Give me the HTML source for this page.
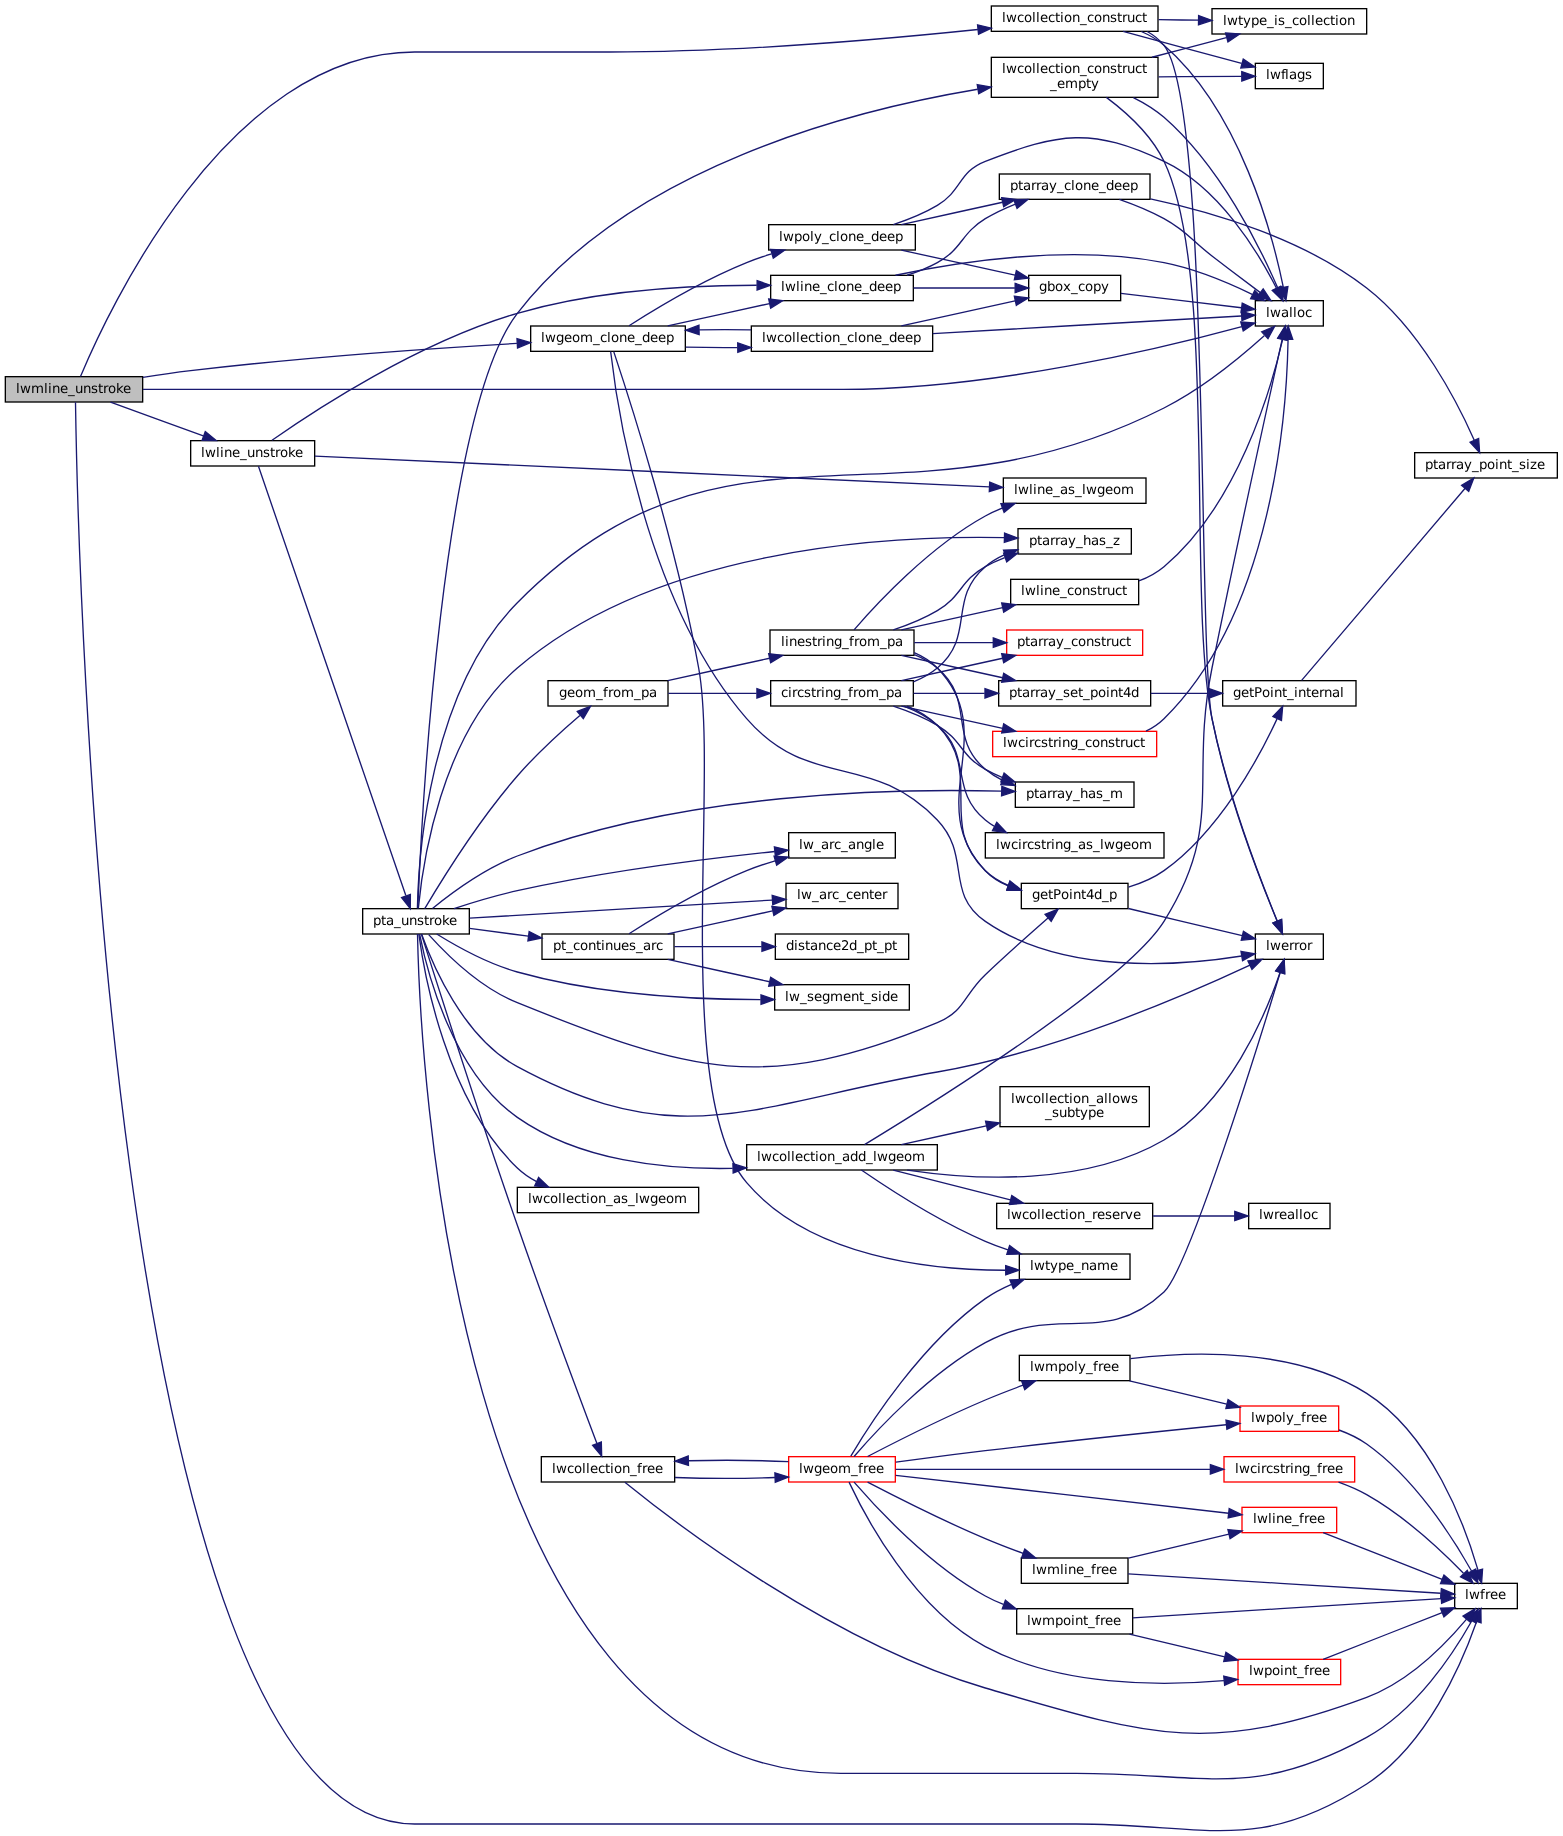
<!DOCTYPE html>
<html lang="en">
<head>
<meta charset="utf-8">
<title>lwmline_unstroke call graph</title>
<style>
html, body { margin: 0; padding: 0; background: #ffffff; }
body { width: 1563px; height: 1836px; overflow: hidden; }
svg { display: block; will-change: transform; }
svg text { font-family: "DejaVu Sans", "Liberation Sans", sans-serif; font-size: 10px; fill: #000000; text-rendering: geometricPrecision; }
</style>
</head>
<body>
<svg width="1563" height="1836" viewBox="0 0 1563 1836" role="img" aria-label="Call graph for lwmline_unstroke">
<g transform="scale(1.3333333)">
<g class="graph" transform="scale(1 1) rotate(0) translate(4 1373.33)">
<rect x="-4" y="-1373.33" width="1172" height="1377.33" fill="white" stroke="none"/>
<g class="node">
<rect x="0" y="-1090.83" width="103" height="19" fill="#bfbfbf" stroke="black"/>
<text x="8.00 11.00 19.25 29.00 32.00 35.00 41.00 47.00 52.25 58.25 64.25 69.50 73.25 77.00 83.00 88.25" y="-1078.58">lwmline_unstroke</text>
</g>
<g class="node">
<rect x="937.5" y="-1147.83" width="51" height="19" fill="white" stroke="black"/>
<text x="945.50 948.50 956.75 962.75 965.75 968.75 974.75" y="-1135.58">lwalloc</text>
</g>
<g class="edge">
<path fill="none" stroke="#191970" d="M103.2,-1081.33C154.57,-1081.33 236.31,-1081.33 307,-1081.33 307,-1081.33 307,-1081.33 628.5,-1081.33 739,-1081.33 867.18,-1112.11 927.4,-1128.44"/>
<polygon fill="#191970" stroke="#191970" points="926.58,-1131.84 937.15,-1131.11 928.43,-1125.09 926.58,-1131.84"/>
</g>
<g class="node">
<rect x="739.5" y="-1368.83" width="125" height="19" fill="white" stroke="black"/>
<text x="747.50 750.50 758.75 764.00 770.00 773.00 776.00 782.00 787.25 791.00 794.00 800.00 806.00 811.25 816.50 822.50 828.50 833.75 837.50 841.25 847.25 852.50" y="-1356.83">lwcollection_construct</text>
</g>
<g class="edge">
<path fill="none" stroke="#191970" d="M56.37,-1090.94C75.65,-1137.16 166.2,-1334.33 307,-1334.33 307,-1334.33 307,-1334.33 453,-1334.33 548.84,-1334.33 659.14,-1343.88 729.42,-1351.18"/>
<polygon fill="#191970" stroke="#191970" points="729.18,-1354.67 739.49,-1352.24 729.91,-1347.71 729.18,-1354.67"/>
</g>
<g class="node">
<rect x="1087" y="-185.83" width="47" height="19" fill="white" stroke="black"/>
<text x="1094.75 1097.75 1106.00 1109.75 1113.50 1119.50" y="-174.08">lwfree</text>
</g>
<g class="edge">
<path fill="none" stroke="#191970" d="M52.62,-1071.7C54.21,-964.88 74.97,-5.33 307,-5.33 307,-5.33 307,-5.33 803,-5.33 900.8,-5.33 938.85,17.73 1021,-35.33 1066.17,-64.51 1092.43,-125.76 1103.41,-157.05"/>
<polygon fill="#191970" stroke="#191970" points="1100.17,-158.39 1106.66,-166.76 1106.8,-156.17 1100.17,-158.39"/>
</g>
<g class="node">
<rect x="394" y="-1128.83" width="116" height="19" fill="white" stroke="black"/>
<text x="401.75 404.75 413.00 419.00 425.00 431.00 440.75 446.00 451.25 454.25 460.25 466.25 472.25 477.50 483.50 489.50 495.50" y="-1116.83">lwgeom_clone_deep</text>
</g>
<g class="edge">
<path fill="none" stroke="#191970" d="M103.17,-1090.26C114.91,-1092.13 127.37,-1093.95 139,-1095.33 223.06,-1105.35 320.38,-1112.07 383.68,-1115.79"/>
<polygon fill="#191970" stroke="#191970" points="383.74,-1119.3 393.93,-1116.38 384.15,-1112.31 383.74,-1119.3"/>
</g>
<g class="node">
<rect x="139" y="-1042.83" width="93" height="19" fill="white" stroke="black"/>
<text x="146.75 149.75 158.00 161.00 164.00 170.00 176.00 181.25 187.25 193.25 198.50 202.25 206.00 212.00 217.25" y="-1030.58">lwline_unstroke</text>
</g>
<g class="edge">
<path fill="none" stroke="#191970" d="M78.89,-1071.74C98.86,-1064.48 126.5,-1054.43 148.49,-1046.43"/>
<polygon fill="#191970" stroke="#191970" points="149.95,-1049.62 158.15,-1042.91 147.56,-1043.04 149.95,-1049.62"/>
</g>
<g class="edge">
<path fill="none" stroke="#191970" d="M851.98,-1349.7C858.15,-1347.04 864.03,-1343.65 869,-1339.33 926.02,-1289.74 950.3,-1197.84 958.51,-1157.81"/>
<polygon fill="#191970" stroke="#191970" points="961.95,-1158.46 960.41,-1147.97 955.07,-1157.13 961.95,-1158.46"/>
</g>
<g class="node">
<rect x="937.5" y="-672.83" width="51" height="19" fill="white" stroke="black"/>
<text x="945.50 948.50 956.75 962.75 966.50 970.25 976.25" y="-660.83">lwerror</text>
</g>
<g class="edge">
<path fill="none" stroke="#191970" d="M856.43,-1349.73C861.23,-1347.04 865.56,-1343.64 869,-1339.33 904.1,-1295.38 894.02,-889.5 905,-834.33 916.31,-777.53 941.06,-713.48 953.9,-682.36"/>
<polygon fill="#191970" stroke="#191970" points="957.14,-683.7 957.77,-673.12 950.68,-680.99 957.14,-683.7"/>
</g>
<g class="node">
<rect x="937.5" y="-1325.83" width="51" height="19" fill="white" stroke="black"/>
<text x="945.50 948.50 956.75 959.75 962.75 968.75 974.75" y="-1314.08">lwflags</text>
</g>
<g class="edge">
<path fill="none" stroke="#191970" d="M838.29,-1349.79C864.78,-1342.63 900.88,-1332.86 927.24,-1325.73"/>
<polygon fill="#191970" stroke="#191970" points="928.44,-1329.04 937.18,-1323.05 926.61,-1322.28 928.44,-1329.04"/>
</g>
<g class="node">
<rect x="905" y="-1366.83" width="116" height="19" fill="white" stroke="black"/>
<text x="913.25 916.25 924.50 928.25 934.25 940.25 946.25 951.50 954.50 959.75 965.00 970.25 976.25 979.25 982.25 988.25 993.50 997.25 1000.25 1006.25" y="-1354.58">lwtype_is_collection</text>
</g>
<g class="edge">
<path fill="none" stroke="#191970" d="M864.93,-1358.55C874.7,-1358.43 884.85,-1358.3 894.73,-1358.18"/>
<polygon fill="#191970" stroke="#191970" points="894.96,-1361.68 904.91,-1358.05 894.87,-1354.68 894.96,-1361.68"/>
</g>
<g class="edge">
<path fill="none" stroke="#191970" d="M453.98,-1109.73C458.41,-1070.75 479.81,-922.16 556,-834.33 603.16,-779.96 649.29,-810.39 699,-758.33 724.81,-731.3 704.28,-703.62 735,-682.33 792.69,-642.36 879.49,-648.68 927.31,-656.32"/>
<polygon fill="#191970" stroke="#191970" points="926.74,-659.77 937.18,-658 927.92,-652.87 926.74,-659.77"/>
</g>
<g class="node">
<rect x="559.5" y="-1128.83" width="136" height="19" fill="white" stroke="black"/>
<text x="567.50 570.50 578.75 584.00 590.00 593.00 596.00 602.00 607.25 611.00 614.00 620.00 626.00 631.25 636.50 639.50 645.50 651.50 657.50 662.75 668.75 674.75 680.75" y="-1116.83">lwcollection_clone_deep</text>
</g>
<g class="edge">
<path fill="none" stroke="#191970" d="M510.29,-1112.94C522.67,-1112.63 535.97,-1112.52 548.98,-1112.62"/>
<polygon fill="#191970" stroke="#191970" points="549.29,-1116.12 559.33,-1112.74 549.37,-1109.12 549.29,-1116.12"/>
</g>
<g class="node">
<rect x="574" y="-1166.83" width="107" height="19" fill="white" stroke="black"/>
<text x="581.75 584.75 593.00 596.00 599.00 605.00 611.00 616.25 621.50 624.50 630.50 636.50 642.50 647.75 653.75 659.75 665.75" y="-1155.08">lwline_clone_deep</text>
</g>
<g class="edge">
<path fill="none" stroke="#191970" d="M496.78,-1128.92C519.99,-1134 548.68,-1140.29 573.17,-1145.65"/>
<polygon fill="#191970" stroke="#191970" points="572.52,-1149.09 583.03,-1147.81 574.01,-1142.25 572.52,-1149.09"/>
</g>
<g class="node">
<rect x="572.5" y="-1204.83" width="110" height="19" fill="white" stroke="black"/>
<text x="580.25 583.25 591.50 597.50 603.50 606.50 612.50 617.75 623.00 626.00 632.00 638.00 644.00 649.25 655.25 661.25 667.25" y="-1192.58">lwpoly_clone_deep</text>
</g>
<g class="edge">
<path fill="none" stroke="#191970" d="M467.79,-1129.03C487.3,-1141.46 523.03,-1163 556,-1176.33 561.94,-1178.74 568.28,-1180.93 574.63,-1182.9"/>
<polygon fill="#191970" stroke="#191970" points="573.99,-1186.36 584.57,-1185.82 575.96,-1179.65 573.99,-1186.36"/>
</g>
<g class="node">
<rect x="760.5" y="-432.83" width="83" height="19" fill="white" stroke="black"/>
<text x="768.50 771.50 779.75 783.50 789.50 795.50 801.50 806.75 812.75 818.75 828.50" y="-420.83">lwtype_name</text>
</g>
<g class="edge">
<path fill="none" stroke="#191970" d="M456.3,-1109.59C467.3,-1076.66 503,-966.34 520,-872.33 535.33,-787.56 500.1,-551.89 556,-486.33 603.62,-430.49 693.46,-420.71 750.11,-420.65"/>
<polygon fill="#191970" stroke="#191970" points="750.25,-424.15 760.29,-420.74 750.32,-417.15 750.25,-424.15"/>
</g>
<g class="edge">
<path fill="none" stroke="#191970" d="M695.59,-1123.16C765.49,-1127.14 872.3,-1133.22 927.02,-1136.34"/>
<polygon fill="#191970" stroke="#191970" points="927.06,-1139.85 937.24,-1136.92 927.46,-1132.86 927.06,-1139.85"/>
</g>
<g class="edge">
<path fill="none" stroke="#191970" d="M559.33,-1125.93C546.55,-1126.13 533.18,-1126.14 520.39,-1125.93"/>
<polygon fill="#191970" stroke="#191970" points="520.36,-1122.43 510.29,-1125.72 520.22,-1129.43 520.36,-1122.43"/>
</g>
<g class="node">
<rect x="767.5" y="-1166.83" width="69" height="19" fill="white" stroke="black"/>
<text x="775.25 781.25 787.25 793.25 799.25 804.50 809.75 815.75 821.75" y="-1155.08">gbox_copy</text>
</g>
<g class="edge">
<path fill="none" stroke="#191970" d="M672.03,-1128.92C698.11,-1134.67 731.16,-1141.95 757.28,-1147.7"/>
<polygon fill="#191970" stroke="#191970" points="756.76,-1151.17 767.28,-1149.91 758.27,-1144.34 756.76,-1151.17"/>
</g>
<g class="edge">
<path fill="none" stroke="#191970" d="M836.72,-1153.3C863.28,-1150.13 900.17,-1145.72 927.04,-1142.51"/>
<polygon fill="#191970" stroke="#191970" points="927.65,-1145.96 937.17,-1141.3 926.82,-1139.01 927.65,-1145.96"/>
</g>
<g class="edge">
<path fill="none" stroke="#191970" d="M667.61,-1166.88C715.51,-1177.1 798.93,-1190.1 869,-1176.33 892.25,-1171.77 917.01,-1161.35 935.13,-1152.57"/>
<polygon fill="#191970" stroke="#191970" points="937.08,-1155.51 944.47,-1147.91 933.96,-1149.25 937.08,-1155.51"/>
</g>
<g class="edge">
<path fill="none" stroke="#191970" d="M681.19,-1157.33C705.51,-1157.33 734.04,-1157.33 757.16,-1157.33"/>
<polygon fill="#191970" stroke="#191970" points="757.37,-1160.83 767.37,-1157.33 757.37,-1153.83 757.37,-1160.83"/>
</g>
<g class="node">
<rect x="745.5" y="-1242.83" width="113" height="19" fill="white" stroke="black"/>
<text x="753.50 759.50 763.25 769.25 773.00 776.75 782.75 788.75 794.00 799.25 802.25 808.25 814.25 820.25 825.50 831.50 837.50 843.50" y="-1230.83">ptarray_clone_deep</text>
</g>
<g class="edge">
<path fill="none" stroke="#191970" d="M676.36,-1166.89C684.18,-1169.38 692,-1172.49 699,-1176.33 718.02,-1186.79 716.44,-1198.07 735,-1209.33 741.97,-1213.56 749.79,-1217.22 757.56,-1220.31"/>
<polygon fill="#191970" stroke="#191970" points="756.34,-1223.59 766.93,-1223.81 758.79,-1217.03 756.34,-1223.59"/>
</g>
<g class="edge">
<path fill="none" stroke="#191970" d="M835.44,-1223.8C846.42,-1219.98 858.54,-1215.11 869,-1209.33 886.74,-1199.53 888.91,-1193.66 905,-1181.33 916.96,-1172.17 930.41,-1162.02 941.24,-1153.88"/>
<polygon fill="#191970" stroke="#191970" points="943.38,-1156.65 949.28,-1147.84 939.18,-1151.05 943.38,-1156.65"/>
</g>
<g class="node">
<rect x="1057" y="-1033.83" width="107" height="19" fill="white" stroke="black"/>
<text x="1064.75 1070.75 1074.50 1080.50 1084.25 1088.00 1094.00 1100.00 1105.25 1111.25 1117.25 1120.25 1126.25 1130.00 1135.25 1140.50 1143.50 1148.75" y="-1021.58">ptarray_point_size</text>
</g>
<g class="edge">
<path fill="none" stroke="#191970" d="M858.8,-1224.18C905.92,-1214.2 973.17,-1194.42 1021,-1157.33 1061.02,-1126.3 1088.97,-1071.88 1101.71,-1043.22"/>
<polygon fill="#191970" stroke="#191970" points="1104.98,-1044.49 1105.71,-1033.92 1098.55,-1041.72 1104.98,-1044.49"/>
</g>
<g class="edge">
<path fill="none" stroke="#191970" d="M665.99,-1204.92C677.04,-1208.57 688.88,-1213.33 699,-1219.33 717.67,-1230.4 714.77,-1244.46 735,-1252.33 790.5,-1273.92 815.2,-1277.88 869,-1252.33 910.53,-1232.61 939.64,-1184.26 953.26,-1157.29"/>
<polygon fill="#191970" stroke="#191970" points="956.5,-1158.63 957.71,-1148.11 950.2,-1155.58 956.5,-1158.63"/>
</g>
<g class="edge">
<path fill="none" stroke="#191970" d="M672.03,-1185.74C698.11,-1180 731.16,-1172.72 757.28,-1166.96"/>
<polygon fill="#191970" stroke="#191970" points="758.27,-1170.33 767.28,-1164.76 756.76,-1163.49 758.27,-1170.33"/>
</g>
<g class="edge">
<path fill="none" stroke="#191970" d="M672.03,-1204.92C695.1,-1210 723.63,-1216.29 747.98,-1221.65"/>
<polygon fill="#191970" stroke="#191970" points="747.27,-1225.08 757.78,-1223.81 748.77,-1218.24 747.27,-1225.08"/>
</g>
<g class="edge">
<path fill="none" stroke="#191970" d="M200.01,-1043.09C230.83,-1064.74 309.43,-1116.62 384,-1138.33 443.24,-1155.59 513.85,-1159.34 563.56,-1159.37"/>
<polygon fill="#191970" stroke="#191970" points="563.85,-1162.87 573.83,-1159.33 563.82,-1155.87 563.85,-1162.87"/>
</g>
<g class="node">
<rect x="748.5" y="-1014.83" width="107" height="19" fill="white" stroke="black"/>
<text x="756.50 759.50 767.75 770.75 773.75 779.75 785.75 791.00 797.00 802.25 807.50 810.50 818.75 824.75 830.75 836.75" y="-1002.83">lwline_as_lwgeom</text>
</g>
<g class="edge">
<path fill="none" stroke="#191970" d="M232.19,-1031.25C340.67,-1026.31 613.97,-1013.86 738.01,-1008.2"/>
<polygon fill="#191970" stroke="#191970" points="738.28,-1011.69 748.11,-1007.74 737.97,-1004.7 738.28,-1011.69"/>
</g>
<g class="node">
<rect x="268" y="-691.83" width="80" height="19" fill="white" stroke="black"/>
<text x="275.75 281.75 285.50 291.50 296.75 302.75 308.75 314.00 317.75 321.50 327.50 332.75" y="-679.58">pta_unstroke</text>
</g>
<g class="edge">
<path fill="none" stroke="#191970" d="M189.85,-1023.58C206.23,-975.85 278.07,-766.61 300.37,-701.64"/>
<polygon fill="#191970" stroke="#191970" points="303.79,-702.47 303.72,-691.88 297.17,-700.2 303.79,-702.47"/>
</g>
<g class="edge">
<path fill="none" stroke="#191970" d="M309.05,-692.12C309.77,-728.07 317.15,-854.12 384,-921.33 542.75,-1080.94 668.04,-965.89 869,-1067.33 897.67,-1081.81 926.41,-1105.49 944.19,-1121.48"/>
<polygon fill="#191970" stroke="#191970" points="942.25,-1124.46 951.99,-1128.64 946.99,-1119.3 942.25,-1124.46"/>
</g>
<g class="edge">
<path fill="none" stroke="#191970" d="M312.16,-672.78C320.08,-650.51 343.18,-595.4 384,-573.33 507.16,-506.74 561.05,-545.42 699,-569.33 787.72,-584.71 886.12,-627.24 933.47,-649.44"/>
<polygon fill="#191970" stroke="#191970" points="931.97,-652.61 942.51,-653.72 934.97,-646.28 931.97,-652.61"/>
</g>
<g class="edge">
<path fill="none" stroke="#191970" d="M309.13,-672.8C310.71,-593.31 332.29,-43.33 626.5,-43.33 626.5,-43.33 626.5,-43.33 803,-43.33 900.63,-43.33 935.28,-23.6 1021,-70.33 1058,-90.51 1085.91,-132.95 1099.78,-157.57"/>
<polygon fill="#191970" stroke="#191970" points="1096.84,-159.51 1104.69,-166.63 1103,-156.17 1096.84,-159.51"/>
</g>
<g class="node">
<rect x="407" y="-862.83" width="90" height="19" fill="white" stroke="black"/>
<text x="415.25 421.25 427.25 433.25 443.00 448.25 452.00 455.75 461.75 471.50 476.75 482.75" y="-850.58">geom_from_pa</text>
</g>
<g class="edge">
<path fill="none" stroke="#191970" d="M314.57,-691.88C326.23,-711.48 354.54,-757.29 384,-791.33 398.43,-808.01 416.96,-824.87 430.88,-836.79"/>
<polygon fill="#191970" stroke="#191970" points="428.97,-839.76 438.87,-843.53 433.48,-834.41 428.97,-839.76"/>
</g>
<g class="node">
<rect x="762" y="-710.83" width="80" height="19" fill="white" stroke="black"/>
<text x="770.00 776.00 782.00 785.75 791.75 797.75 800.75 806.75 810.50 816.50 822.50 827.75" y="-699.08">getPoint4d_p</text>
</g>
<g class="edge">
<path fill="none" stroke="#191970" d="M317.5,-672.4C330.3,-658.23 356,-632.68 384,-621.33 513.9,-568.71 569.51,-552.7 699,-606.33 719.91,-614.99 718.56,-626.79 735,-642.33 750.54,-657.02 768.68,-673.17 782.01,-684.86"/>
<polygon fill="#191970" stroke="#191970" points="779.78,-687.56 789.62,-691.5 784.39,-682.29 779.78,-687.56"/>
</g>
<g class="node">
<rect x="757.5" y="-786.83" width="89" height="19" fill="white" stroke="black"/>
<text x="765.50 771.50 775.25 781.25 785.00 788.75 794.75 800.75 806.00 812.00 818.00 823.25 828.50" y="-774.83">ptarray_has_m</text>
</g>
<g class="edge">
<path fill="none" stroke="#191970" d="M320.35,-691.99C334.35,-703.35 359.32,-721.84 384,-731.33 507.54,-778.85 665.82,-782.09 747.26,-779.96"/>
<polygon fill="#191970" stroke="#191970" points="747.39,-783.46 757.28,-779.66 747.18,-776.46 747.39,-783.46"/>
</g>
<g class="node">
<rect x="759.5" y="-976.83" width="85" height="19" fill="white" stroke="black"/>
<text x="767.75 773.75 777.50 783.50 787.25 791.00 797.00 803.00 808.25 814.25 820.25 825.50 830.75" y="-964.58">ptarray_has_z</text>
</g>
<g class="edge">
<path fill="none" stroke="#191970" d="M309.74,-692.01C312.7,-723.34 326.42,-822.9 384,-872.33 489.3,-962.73 663.11,-971.77 749.27,-970.06"/>
<polygon fill="#191970" stroke="#191970" points="749.43,-973.56 759.34,-969.81 749.25,-966.56 749.43,-973.56"/>
</g>
<g class="node">
<rect x="587.5" y="-748.83" width="80" height="19" fill="white" stroke="black"/>
<text x="595.25 598.25 606.50 611.75 617.75 621.50 626.75 632.00 638.00 644.00 650.00 653.00" y="-736.58">lw_arc_angle</text>
</g>
<g class="edge">
<path fill="none" stroke="#191970" d="M336.5,-691.91C350.57,-696.52 368.05,-701.79 384,-705.33 450.06,-720 527.73,-729.57 577.02,-734.71"/>
<polygon fill="#191970" stroke="#191970" points="576.79,-738.21 587.1,-735.75 577.51,-731.25 576.79,-738.21"/>
</g>
<g class="node">
<rect x="585.5" y="-710.83" width="84" height="19" fill="white" stroke="black"/>
<text x="593.75 596.75 605.00 610.25 616.25 620.00 625.25 630.50 635.75 641.75 647.75 651.50 657.50" y="-699.08">lw_arc_center</text>
</g>
<g class="edge">
<path fill="none" stroke="#191970" d="M348.25,-684.68C405.46,-688.11 511.81,-694.47 575.16,-698.26"/>
<polygon fill="#191970" stroke="#191970" points="575.14,-701.77 585.33,-698.87 575.56,-694.78 575.14,-701.77"/>
</g>
<g class="node">
<rect x="577" y="-634.83" width="101" height="19" fill="white" stroke="black"/>
<text x="584.75 587.75 596.00 601.25 606.50 612.50 618.50 628.25 634.25 640.25 644.00 649.25 654.50 657.50 663.50" y="-622.58">lw_segment_side</text>
</g>
<g class="edge">
<path fill="none" stroke="#191970" d="M323.52,-672.8C338.13,-663.74 361.65,-650.6 384,-644.33 444.54,-627.34 516.7,-623.69 566.48,-623.61"/>
<polygon fill="#191970" stroke="#191970" points="566.74,-627.11 576.75,-623.64 566.76,-620.11 566.74,-627.11"/>
</g>
<g class="node">
<rect x="556" y="-514.83" width="143" height="19" fill="white" stroke="black"/>
<text x="563.75 566.75 575.00 580.25 586.25 589.25 592.25 598.25 603.50 607.25 610.25 616.25 622.25 627.50 633.50 639.50 645.50 650.75 653.75 662.00 668.00 674.00 680.00" y="-502.58">lwcollection_add_lwgeom</text>
</g>
<g class="edge">
<path fill="none" stroke="#191970" d="M310.7,-672.76C316,-645.93 334.96,-569.69 384,-535.33 430.56,-502.72 494.83,-496.03 545.51,-497.06"/>
<polygon fill="#191970" stroke="#191970" points="545.68,-500.57 555.78,-497.38 545.89,-493.57 545.68,-500.57"/>
</g>
<g class="node">
<rect x="384" y="-482.83" width="136" height="19" fill="white" stroke="black"/>
<text x="392.00 395.00 403.25 408.50 414.50 417.50 420.50 426.50 431.75 435.50 438.50 444.50 450.50 455.75 461.75 467.00 472.25 475.25 483.50 489.50 495.50 501.50" y="-471.08">lwcollection_as_lwgeom</text>
</g>
<g class="edge">
<path fill="none" stroke="#191970" d="M310.13,-672.75C314.19,-642.57 330.74,-548.45 384,-497.33 388.23,-493.28 393.18,-489.9 398.46,-487.09"/>
<polygon fill="#191970" stroke="#191970" points="399.96,-490.25 407.56,-482.88 397.02,-483.9 399.96,-490.25"/>
</g>
<g class="node">
<rect x="739.5" y="-1330.33" width="125" height="30" fill="white" stroke="black"/>
<text x="747.50 750.50 758.75 764.00 770.00 773.00 776.00 782.00 787.25 791.00 794.00 800.00 806.00 811.25 816.50 822.50 828.50 833.75 837.50 841.25 847.25 852.50" y="-1318.58">lwcollection_construct</text>
<text x="783.50 788.75 794.75 804.50 810.50 814.25" y="-1307.33">_empty</text>
</g>
<g class="edge">
<path fill="none" stroke="#191970" d="M309.37,-692.05C311.79,-751.38 327.14,-1064.91 384,-1138.33 468.78,-1247.83 634.22,-1290.44 729.25,-1306.37"/>
<polygon fill="#191970" stroke="#191970" points="728.92,-1309.86 739.35,-1308.01 730.04,-1302.95 728.92,-1309.86"/>
</g>
<g class="node">
<rect x="402" y="-280.83" width="100" height="19" fill="white" stroke="black"/>
<text x="410.00 413.00 421.25 426.50 432.50 435.50 438.50 444.50 449.75 453.50 456.50 462.50 468.50 473.75 477.50 481.25 487.25" y="-268.58">lwcollection_free</text>
</g>
<g class="edge">
<path fill="none" stroke="#191970" d="M312.03,-672.74C321.99,-641.3 354.73,-538.57 384,-454.33 404.84,-394.35 431.14,-323.96 443.69,-290.66"/>
<polygon fill="#191970" stroke="#191970" points="446.99,-291.8 447.25,-281.21 440.45,-289.33 446.99,-291.8"/>
</g>
<g class="node">
<rect x="402.5" y="-672.83" width="99" height="19" fill="white" stroke="black"/>
<text x="410.75 416.75 420.50 425.75 431.00 437.00 443.00 446.75 449.75 455.75 461.75 467.75 473.00 478.25 484.25 488.00" y="-660.83">pt_continues_arc</text>
</g>
<g class="edge">
<path fill="none" stroke="#191970" d="M348.18,-677.09C361.78,-675.27 377.36,-673.19 392.2,-671.2"/>
<polygon fill="#191970" stroke="#191970" points="392.87,-674.64 402.32,-669.85 391.95,-667.7 392.87,-674.64"/>
</g>
<g class="node">
<rect x="574" y="-862.83" width="107" height="19" fill="white" stroke="black"/>
<text x="581.75 587.00 590.00 593.75 599.00 604.25 608.00 611.75 614.75 620.75 626.75 632.00 635.75 639.50 645.50 655.25 660.50 666.50" y="-850.58">circstring_from_pa</text>
</g>
<g class="edge">
<path fill="none" stroke="#191970" d="M497.23,-853.33C517.34,-853.33 541.5,-853.33 563.46,-853.33"/>
<polygon fill="#191970" stroke="#191970" points="563.7,-856.83 573.7,-853.33 563.7,-849.83 563.7,-856.83"/>
</g>
<g class="node">
<rect x="573.5" y="-900.83" width="108" height="19" fill="white" stroke="black"/>
<text x="581.75 584.75 587.75 593.75 599.75 605.00 608.75 612.50 615.50 621.50 627.50 632.75 636.50 640.25 646.25 656.00 661.25 667.25" y="-888.83">linestring_from_pa</text>
</g>
<g class="edge">
<path fill="none" stroke="#191970" d="M496.78,-862.92C519.99,-868 548.68,-874.29 573.17,-879.65"/>
<polygon fill="#191970" stroke="#191970" points="572.52,-883.09 583.03,-881.81 574.01,-876.25 572.52,-883.09"/>
</g>
<g class="edge">
<path fill="none" stroke="#191970" d="M676.34,-843.77C684.7,-840.33 692.72,-835.67 699,-829.33 734.91,-793.09 698.23,-755.7 735,-720.33 739.91,-715.61 745.91,-712.05 752.27,-709.37"/>
<polygon fill="#191970" stroke="#191970" points="753.5,-712.65 761.77,-706.03 751.18,-706.05 753.5,-712.65"/>
</g>
<g class="node">
<rect x="735" y="-748.83" width="134" height="19" fill="white" stroke="black"/>
<text x="743.00 746.00 754.25 759.50 762.50 766.25 771.50 776.75 780.50 784.25 787.25 793.25 799.25 804.50 810.50 815.75 821.00 824.00 832.25 838.25 844.25 850.25" y="-736.58">lwcircstring_as_lwgeom</text>
</g>
<g class="edge">
<path fill="none" stroke="#191970" d="M673.78,-843.7C682.84,-840.26 691.77,-835.6 699,-829.33 725.72,-806.14 707.73,-780.88 735,-758.33 737.05,-756.64 739.24,-755.09 741.54,-753.69"/>
<polygon fill="#191970" stroke="#191970" points="743.53,-756.6 750.83,-748.92 740.34,-750.37 743.53,-756.6"/>
</g>
<g class="node">
<rect x="740.5" y="-824.83" width="123" height="19" fill="white" stroke="red"/>
<text x="748.25 751.25 759.50 764.75 767.75 771.50 776.75 782.00 785.75 789.50 792.50 798.50 804.50 809.75 815.00 821.00 827.00 832.25 836.00 839.75 845.75 851.00" y="-813.08">lwcircstring_construct</text>
</g>
<g class="edge">
<path fill="none" stroke="#191970" d="M672.03,-843.74C695.1,-838.66 723.63,-832.38 747.98,-827.01"/>
<polygon fill="#191970" stroke="#191970" points="748.77,-830.42 757.78,-824.85 747.27,-823.59 748.77,-830.42"/>
</g>
<g class="node">
<rect x="751" y="-900.83" width="102" height="19" fill="white" stroke="red"/>
<text x="758.75 764.75 768.50 774.50 778.25 782.00 788.00 794.00 799.25 804.50 810.50 816.50 821.75 825.50 829.25 835.25 840.50" y="-888.83">ptarray_construct</text>
</g>
<g class="edge">
<path fill="none" stroke="#191970" d="M672.03,-862.92C695.1,-868 723.63,-874.29 747.98,-879.65"/>
<polygon fill="#191970" stroke="#191970" points="747.27,-883.08 757.78,-881.81 748.77,-876.24 747.27,-883.08"/>
</g>
<g class="edge">
<path fill="none" stroke="#191970" d="M665.99,-843.75C677.04,-840.1 688.88,-835.33 699,-829.33 717.67,-818.27 716.07,-806.95 735,-796.33 738.97,-794.11 743.22,-792.12 747.58,-790.36"/>
<polygon fill="#191970" stroke="#191970" points="749.05,-793.55 757.24,-786.83 746.65,-786.97 749.05,-793.55"/>
</g>
<g class="edge">
<path fill="none" stroke="#191970" d="M681.1,-861.96C687.57,-864.56 693.75,-867.95 699,-872.33 727.69,-896.29 706.52,-924.13 735,-948.33 739.32,-952 744.3,-954.96 749.56,-957.35"/>
<polygon fill="#191970" stroke="#191970" points="748.65,-960.75 759.24,-961.07 751.16,-954.21 748.65,-960.75"/>
</g>
<g class="node">
<rect x="745" y="-862.83" width="114" height="19" fill="white" stroke="black"/>
<text x="752.75 758.75 762.50 768.50 772.25 776.00 782.00 788.00 793.25 798.50 804.50 808.25 813.50 819.50 825.50 828.50 834.50 838.25 844.25" y="-850.58">ptarray_set_point4d</text>
</g>
<g class="edge">
<path fill="none" stroke="#191970" d="M681.19,-853.33C698.01,-853.33 716.84,-853.33 734.5,-853.33"/>
<polygon fill="#191970" stroke="#191970" points="734.74,-856.83 744.74,-853.33 734.74,-849.83 734.74,-856.83"/>
</g>
<g class="edge">
<path fill="none" stroke="#191970" d="M842.3,-691.94C868.49,-685.68 902.58,-677.54 927.67,-671.54"/>
<polygon fill="#191970" stroke="#191970" points="928.58,-674.92 937.49,-669.19 926.95,-668.11 928.58,-674.92"/>
</g>
<g class="node">
<rect x="913" y="-862.83" width="100" height="19" fill="white" stroke="black"/>
<text x="920.75 926.75 932.75 936.50 942.50 948.50 951.50 957.50 961.25 966.50 969.50 975.50 979.25 985.25 989.00 995.00 1001.00" y="-850.58">getPoint_internal</text>
</g>
<g class="edge">
<path fill="none" stroke="#191970" d="M842.34,-707.96C851.65,-710.75 861.14,-714.72 869,-720.33 910.85,-750.24 940.31,-805.14 953.77,-834.17"/>
<polygon fill="#191970" stroke="#191970" points="950.71,-835.9 957.99,-843.6 957.1,-833.04 950.71,-835.9"/>
</g>
<g class="edge">
<path fill="none" stroke="#191970" d="M972.24,-863.02C995.95,-890.88 1064.57,-971.53 1094.85,-1007.12"/>
<polygon fill="#191970" stroke="#191970" points="1092.2,-1009.41 1101.35,-1014.76 1097.54,-1004.87 1092.2,-1009.41"/>
</g>
<g class="edge">
<path fill="none" stroke="#191970" d="M855.48,-824.95C860.45,-827.41 865.09,-830.49 869,-834.33 950.75,-914.74 961.06,-1064.86 962.05,-1118.58"/>
<polygon fill="#191970" stroke="#191970" points="958.55,-1118.81 962.14,-1128.78 965.55,-1118.75 958.55,-1118.81"/>
</g>
<g class="edge">
<path fill="none" stroke="#191970" d="M859.06,-853.33C873.16,-853.33 888.34,-853.33 902.6,-853.33"/>
<polygon fill="#191970" stroke="#191970" points="902.79,-856.83 912.79,-853.33 902.79,-849.83 902.79,-856.83"/>
</g>
<g class="edge">
<path fill="none" stroke="#191970" d="M636.55,-900.97C653.05,-920.09 692.7,-962.99 735,-986.33 738.98,-988.53 743.25,-990.5 747.61,-992.25"/>
<polygon fill="#191970" stroke="#191970" points="746.69,-995.64 757.28,-995.76 749.08,-989.06 746.69,-995.64"/>
</g>
<g class="edge">
<path fill="none" stroke="#191970" d="M681.66,-883.84C688.12,-881.07 694.15,-877.34 699,-872.33 747.33,-822.5 687.1,-770.58 735,-720.33 739.75,-715.35 745.72,-711.64 752.12,-708.9"/>
<polygon fill="#191970" stroke="#191970" points="753.43,-712.15 761.7,-705.52 751.11,-705.54 753.43,-712.15"/>
</g>
<g class="edge">
<path fill="none" stroke="#191970" d="M681.66,-891.33C700.38,-891.33 721.54,-891.33 740.79,-891.33"/>
<polygon fill="#191970" stroke="#191970" points="740.96,-894.83 750.96,-891.33 740.96,-887.83 740.96,-894.83"/>
</g>
<g class="edge">
<path fill="none" stroke="#191970" d="M681.82,-882.42C688.03,-879.85 693.94,-876.56 699,-872.33 727.69,-848.37 706.52,-820.54 735,-796.33 738.78,-793.12 743.07,-790.46 747.6,-788.24"/>
<polygon fill="#191970" stroke="#191970" points="749.27,-791.34 757.18,-784.29 746.6,-784.87 749.27,-791.34"/>
</g>
<g class="edge">
<path fill="none" stroke="#191970" d="M665.99,-900.92C677.04,-904.57 688.88,-909.33 699,-915.33 717.67,-926.4 716.07,-937.72 735,-948.33 739.56,-950.89 744.5,-953.13 749.55,-955.09"/>
<polygon fill="#191970" stroke="#191970" points="748.74,-958.51 759.33,-958.51 751.04,-951.9 748.74,-958.51"/>
</g>
<g class="edge">
<path fill="none" stroke="#191970" d="M672.03,-881.74C695.1,-876.66 723.63,-870.38 747.98,-865.01"/>
<polygon fill="#191970" stroke="#191970" points="748.77,-868.42 757.78,-862.85 747.27,-861.59 748.77,-868.42"/>
</g>
<g class="node">
<rect x="754" y="-938.83" width="96" height="19" fill="white" stroke="black"/>
<text x="761.75 764.75 773.00 776.00 779.00 785.00 791.00 796.25 801.50 807.50 813.50 818.75 822.50 826.25 832.25 837.50" y="-927.08">lwline_construct</text>
</g>
<g class="edge">
<path fill="none" stroke="#191970" d="M672.03,-900.92C695.1,-906 723.63,-912.29 747.98,-917.65"/>
<polygon fill="#191970" stroke="#191970" points="747.27,-921.08 757.78,-919.81 748.77,-914.24 747.27,-921.08"/>
</g>
<g class="edge">
<path fill="none" stroke="#191970" d="M850.18,-937.61C856.98,-940.25 863.52,-943.74 869,-948.33 923.8,-994.3 949.05,-1080.31 957.99,-1118.82"/>
<polygon fill="#191970" stroke="#191970" points="954.61,-1119.73 960.17,-1128.75 961.44,-1118.23 954.61,-1119.73"/>
</g>
<g class="edge">
<path fill="none" stroke="#191970" d="M644.43,-514.89C693.32,-544.53 839.66,-635.72 869,-682.33 914.78,-755.07 887.99,-788.09 905,-872.33 923.65,-964.75 947.88,-1074.78 957.64,-1118.76"/>
<polygon fill="#191970" stroke="#191970" points="954.26,-1119.69 959.85,-1128.69 961.09,-1118.17 954.26,-1119.69"/>
</g>
<g class="edge">
<path fill="none" stroke="#191970" d="M676.4,-495.79C727.7,-488.2 809.74,-483.83 869,-518.33 917.53,-546.59 944.9,-611.41 956.05,-643.95"/>
<polygon fill="#191970" stroke="#191970" points="952.78,-645.22 959.21,-653.65 959.44,-643.05 952.78,-645.22"/>
</g>
<g class="edge">
<path fill="none" stroke="#191970" d="M642.03,-495.8C661.69,-482.3 699.69,-457.56 735,-442.33 740.4,-440 746.17,-437.87 751.97,-435.93"/>
<polygon fill="#191970" stroke="#191970" points="753.2,-439.22 761.69,-432.88 751.1,-432.54 753.2,-439.22"/>
</g>
<g class="node">
<rect x="746" y="-558.33" width="112" height="30" fill="white" stroke="black"/>
<text x="754.25 757.25 765.50 770.75 776.75 779.75 782.75 788.75 794.00 797.75 800.75 806.75 812.75 818.00 824.00 827.00 830.00 836.00 844.25" y="-546.08">lwcollection_allows</text>
<text x="779.75 785.00 790.25 796.25 802.25 806.00 812.00 818.00" y="-535.58">_subtype</text>
</g>
<g class="edge">
<path fill="none" stroke="#191970" d="M672.03,-514.92C691.33,-519.17 714.45,-524.27 735.75,-528.96"/>
<polygon fill="#191970" stroke="#191970" points="735.19,-532.42 745.71,-531.15 736.7,-525.58 735.19,-532.42"/>
</g>
<g class="node">
<rect x="743.5" y="-470.83" width="117" height="19" fill="white" stroke="black"/>
<text x="751.25 754.25 762.50 767.75 773.75 776.75 779.75 785.75 791.00 794.75 797.75 803.75 809.75 815.00 818.75 824.75 830.00 836.00 839.75 845.75" y="-459.08">lwcollection_reserve</text>
</g>
<g class="edge">
<path fill="none" stroke="#191970" d="M665.93,-495.79C691.7,-489.21 726.14,-480.43 753.79,-473.38"/>
<polygon fill="#191970" stroke="#191970" points="754.82,-476.73 763.64,-470.86 753.09,-469.94 754.82,-476.73"/>
</g>
<g class="node">
<rect x="932.5" y="-470.83" width="61" height="19" fill="white" stroke="black"/>
<text x="940.25 943.25 951.50 955.25 961.25 967.25 970.25 973.25 979.25" y="-459.08">lwrealloc</text>
</g>
<g class="edge">
<path fill="none" stroke="#191970" d="M860.85,-461.33C881.14,-461.33 903.45,-461.33 921.96,-461.33"/>
<polygon fill="#191970" stroke="#191970" points="922.08,-464.83 932.08,-461.33 922.08,-457.83 922.08,-464.83"/>
</g>
<g class="edge">
<path fill="none" stroke="#191970" d="M846.03,-1300.17C854.18,-1296.13 862.26,-1291.2 869,-1285.33 911.16,-1248.6 940.99,-1188.1 954.26,-1157.43"/>
<polygon fill="#191970" stroke="#191970" points="957.62,-1158.49 958.26,-1147.92 951.16,-1155.78 957.62,-1158.49"/>
</g>
<g class="edge">
<path fill="none" stroke="#191970" d="M825.79,-1300.32C840.84,-1289.05 859.48,-1272.19 869,-1252.33 909.32,-1168.27 886.13,-925.64 905,-834.33 916.72,-777.62 941.29,-713.53 954,-682.37"/>
<polygon fill="#191970" stroke="#191970" points="957.23,-683.71 957.82,-673.13 950.77,-681.04 957.23,-683.71"/>
</g>
<g class="edge">
<path fill="none" stroke="#191970" d="M864.93,-1315.72C886.07,-1315.86 908.95,-1316 927.19,-1316.11"/>
<polygon fill="#191970" stroke="#191970" points="927.32,-1319.62 937.34,-1316.18 927.36,-1312.62 927.32,-1319.62"/>
</g>
<g class="edge">
<path fill="none" stroke="#191970" d="M859.95,-1330.38C878.28,-1335.22 898.34,-1340.52 915.8,-1345.13"/>
<polygon fill="#191970" stroke="#191970" points="915.18,-1348.58 925.74,-1347.75 916.96,-1341.82 915.18,-1348.58"/>
</g>
<g class="edge">
<path fill="none" stroke="#191970" d="M464.65,-261.66C501.43,-231.79 619.47,-141.05 735,-107.33 857.06,-71.71 901.77,-56.16 1021,-100.33 1052.46,-111.99 1080.25,-140.37 1095.96,-158.96"/>
<polygon fill="#191970" stroke="#191970" points="1093.26,-161.19 1102.3,-166.72 1098.68,-156.76 1093.26,-161.19"/>
</g>
<g class="node">
<rect x="587.5" y="-280.83" width="80" height="19" fill="white" stroke="red"/>
<text x="595.25 598.25 606.50 612.50 618.50 624.50 634.25 639.50 643.25 647.00 653.00" y="-268.58">lwgeom_free</text>
</g>
<g class="edge">
<path fill="none" stroke="#191970" d="M502.25,-265.18C525.73,-264.39 553.74,-264.39 577.22,-265.18"/>
<polygon fill="#191970" stroke="#191970" points="577.18,-268.68 587.32,-265.58 577.46,-261.68 577.18,-268.68"/>
</g>
<g class="edge">
<path fill="none" stroke="#191970" d="M636.55,-280.98C653.03,-300.13 692.65,-343.07 735,-366.33 789.26,-396.14 823.76,-362.08 869,-404.33 887.45,-421.56 938.84,-586.92 956.19,-644.04"/>
<polygon fill="#191970" stroke="#191970" points="952.86,-645.11 959.1,-653.67 959.56,-643.08 952.86,-645.11"/>
</g>
<g class="edge">
<path fill="none" stroke="#191970" d="M634.13,-281.18C648.16,-304.87 686.99,-365.58 735,-399.33 740.97,-403.53 747.75,-407.07 754.64,-410.04"/>
<polygon fill="#191970" stroke="#191970" points="753.44,-413.33 764.03,-413.74 756.01,-406.82 753.44,-413.33"/>
</g>
<g class="edge">
<path fill="none" stroke="#191970" d="M587.32,-277.09C565.18,-278.12 537.06,-278.35 512.28,-277.77"/>
<polygon fill="#191970" stroke="#191970" points="512.35,-274.27 502.25,-277.49 512.15,-281.27 512.35,-274.27"/>
</g>
<g class="node">
<rect x="914" y="-280.83" width="98" height="19" fill="white" stroke="red"/>
<text x="922.25 925.25 933.50 938.75 941.75 945.50 950.75 956.00 959.75 963.50 966.50 972.50 978.50 983.75 987.50 991.25 997.25" y="-268.58">lwcircstring_free</text>
</g>
<g class="edge">
<path fill="none" stroke="#191970" d="M667.74,-271.33C726.04,-271.33 835.94,-271.33 903.68,-271.33"/>
<polygon fill="#191970" stroke="#191970" points="903.77,-274.83 913.77,-271.33 903.77,-267.83 903.77,-274.83"/>
</g>
<g class="node">
<rect x="927.5" y="-242.83" width="71" height="19" fill="white" stroke="red"/>
<text x="935.75 938.75 947.00 950.00 953.00 959.00 965.00 970.25 974.00 977.75 983.75" y="-231.08">lwline_free</text>
</g>
<g class="edge">
<path fill="none" stroke="#191970" d="M667.74,-266.86C730.17,-259.75 851.76,-245.89 917.41,-238.41"/>
<polygon fill="#191970" stroke="#191970" points="917.9,-241.88 927.44,-237.27 917.11,-234.93 917.9,-241.88"/>
</g>
<g class="node">
<rect x="762" y="-204.83" width="80" height="19" fill="white" stroke="black"/>
<text x="770.00 773.00 781.25 791.00 794.00 797.00 803.00 809.00 814.25 818.00 821.75 827.75" y="-192.83">lwmline_free</text>
</g>
<g class="edge">
<path fill="none" stroke="#191970" d="M646.7,-261.72C667.69,-250.8 703.37,-232.76 735,-219.33 744.08,-215.48 754.01,-211.66 763.35,-208.25"/>
<polygon fill="#191970" stroke="#191970" points="764.58,-211.52 772.81,-204.85 762.21,-204.94 764.58,-211.52"/>
</g>
<g class="node">
<rect x="758.5" y="-166.83" width="87" height="19" fill="white" stroke="black"/>
<text x="766.25 769.25 777.50 787.25 793.25 799.25 802.25 808.25 812.00 817.25 821.00 824.75 830.75" y="-154.58">lwmpoint_free</text>
</g>
<g class="edge">
<path fill="none" stroke="#191970" d="M636.55,-261.7C653.05,-242.58 692.7,-199.68 735,-176.33 739.28,-173.97 743.87,-171.88 748.58,-170.03"/>
<polygon fill="#191970" stroke="#191970" points="750.08,-173.22 758.33,-166.57 747.73,-166.62 750.08,-173.22"/>
</g>
<g class="node">
<rect x="924.5" y="-128.83" width="77" height="19" fill="white" stroke="red"/>
<text x="932.75 935.75 944.00 950.00 956.00 959.00 965.00 968.75 974.00 977.75 981.50 987.50" y="-117.08">lwpoint_free</text>
</g>
<g class="edge">
<path fill="none" stroke="#191970" d="M632.77,-261.75C644.68,-236.31 680.96,-167.13 735,-138.33 790.93,-108.53 865.78,-108.6 913.95,-112.81"/>
<polygon fill="#191970" stroke="#191970" points="913.82,-116.31 924.11,-113.8 914.49,-109.35 913.82,-116.31"/>
</g>
<g class="node">
<rect x="760.5" y="-356.83" width="83" height="19" fill="white" stroke="black"/>
<text x="768.50 771.50 779.75 789.50 795.50 801.50 804.50 810.50 815.75 819.50 823.25 829.25" y="-345.08">lwmpoly_free</text>
</g>
<g class="edge">
<path fill="none" stroke="#191970" d="M646.7,-280.95C667.69,-291.87 703.37,-309.91 735,-323.33 744.08,-327.19 754.01,-331 763.35,-334.42"/>
<polygon fill="#191970" stroke="#191970" points="762.21,-337.73 772.81,-337.82 764.58,-331.14 762.21,-337.73"/>
</g>
<g class="node">
<rect x="926" y="-318.83" width="74" height="19" fill="white" stroke="red"/>
<text x="934.25 937.25 945.50 951.50 957.50 960.50 966.50 971.75 975.50 979.25 985.25" y="-306.83">lwpoly_free</text>
</g>
<g class="edge">
<path fill="none" stroke="#191970" d="M667.92,-276.76C687.99,-279.46 712.78,-282.7 735,-285.33 797.43,-292.74 869.66,-300.18 915.57,-304.77"/>
<polygon fill="#191970" stroke="#191970" points="915.5,-308.28 925.8,-305.79 916.19,-301.32 915.5,-308.28"/>
</g>
<g class="edge">
<path fill="none" stroke="#191970" d="M999.88,-261.74C1007.1,-259.16 1014.47,-256.04 1021,-252.33 1049.31,-236.28 1076.96,-210.44 1093.61,-193.42"/>
<polygon fill="#191970" stroke="#191970" points="1096.47,-195.49 1100.86,-185.85 1091.41,-190.65 1096.47,-195.49"/>
</g>
<g class="edge">
<path fill="none" stroke="#191970" d="M988.35,-223.79C1012.85,-214.2 1050.75,-199.35 1077.62,-188.82"/>
<polygon fill="#191970" stroke="#191970" points="1078.95,-192.06 1086.98,-185.15 1076.39,-185.54 1078.95,-192.06"/>
</g>
<g class="edge">
<path fill="none" stroke="#191970" d="M842.13,-192.91C903.08,-189.13 1019.58,-181.91 1076.53,-178.38"/>
<polygon fill="#191970" stroke="#191970" points="1077,-181.85 1086.76,-177.74 1076.57,-174.87 1077,-181.85"/>
</g>
<g class="edge">
<path fill="none" stroke="#191970" d="M842.3,-204.73C865.16,-210.19 894.02,-217.09 917.68,-222.74"/>
<polygon fill="#191970" stroke="#191970" points="916.93,-226.16 927.47,-225.08 918.56,-219.35 916.93,-226.16"/>
</g>
<g class="edge">
<path fill="none" stroke="#191970" d="M845.62,-159.98C907.58,-163.82 1021.22,-170.86 1076.95,-174.32"/>
<polygon fill="#191970" stroke="#191970" points="1076.77,-177.81 1086.97,-174.94 1077.21,-170.82 1076.77,-177.81"/>
</g>
<g class="edge">
<path fill="none" stroke="#191970" d="M843.12,-147.74C864.84,-142.55 891.8,-136.11 914.56,-130.67"/>
<polygon fill="#191970" stroke="#191970" points="915.44,-134.06 924.35,-128.33 913.81,-127.25 915.44,-134.06"/>
</g>
<g class="edge">
<path fill="none" stroke="#191970" d="M988.35,-128.87C1012.85,-138.47 1050.75,-153.32 1077.62,-163.85"/>
<polygon fill="#191970" stroke="#191970" points="1076.39,-167.12 1086.98,-167.51 1078.95,-160.61 1076.39,-167.12"/>
</g>
<g class="edge">
<path fill="none" stroke="#191970" d="M843.88,-354.31C890.52,-360.03 967.26,-362.42 1021,-328.33 1069.65,-297.47 1094.66,-229.54 1104.45,-195.94"/>
<polygon fill="#191970" stroke="#191970" points="1107.92,-196.54 1107.2,-185.97 1101.17,-194.68 1107.92,-196.54"/>
</g>
<g class="edge">
<path fill="none" stroke="#191970" d="M843.12,-337.74C865.32,-332.44 893,-325.82 916.06,-320.31"/>
<polygon fill="#191970" stroke="#191970" points="917.05,-323.67 925.96,-317.95 915.42,-316.87 917.05,-323.67"/>
</g>
<g class="edge">
<path fill="none" stroke="#191970" d="M1000.21,-300.83C1007.48,-298.17 1014.79,-294.73 1021,-290.33 1057.1,-264.77 1085.5,-220.24 1099.65,-195.07"/>
<polygon fill="#191970" stroke="#191970" points="1102.8,-196.61 1104.52,-186.15 1096.65,-193.25 1102.8,-196.61"/>
</g>
<g class="edge">
<path fill="none" stroke="#191970" d="M467.79,-673.03C487.3,-685.46 523.03,-707 556,-720.33 562.79,-723.08 570.1,-725.55 577.35,-727.74"/>
<polygon fill="#191970" stroke="#191970" points="576.58,-731.16 587.16,-730.53 578.5,-724.42 576.58,-731.16"/>
</g>
<g class="edge">
<path fill="none" stroke="#191970" d="M496.78,-672.92C520.69,-678.16 550.43,-684.67 575.4,-690.14"/>
<polygon fill="#191970" stroke="#191970" points="574.9,-693.61 585.42,-692.34 576.4,-686.78 574.9,-693.61"/>
</g>
<g class="edge">
<path fill="none" stroke="#191970" d="M496.78,-653.74C519.99,-648.66 548.68,-642.38 573.17,-637.01"/>
<polygon fill="#191970" stroke="#191970" points="574.01,-640.41 583.03,-634.85 572.52,-633.57 574.01,-640.41"/>
</g>
<g class="node">
<rect x="577.5" y="-672.83" width="100" height="19" fill="white" stroke="black"/>
<text x="585.50 591.50 594.50 599.75 603.50 609.50 615.50 620.75 626.75 632.75 638.75 644.00 650.00 653.75 659.00 665.00" y="-660.83">distance2d_pt_pt</text>
</g>
<g class="edge">
<path fill="none" stroke="#191970" d="M501.79,-663.33C522.12,-663.33 545.91,-663.33 567.23,-663.33"/>
<polygon fill="#191970" stroke="#191970" points="567.47,-666.83 577.47,-663.33 567.47,-659.83 567.47,-666.83"/>
</g>
</g>
</g>
</svg>
</body>
</html>
